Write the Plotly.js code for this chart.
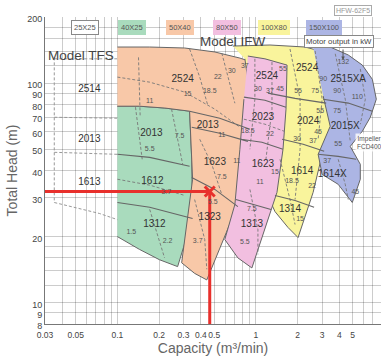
<!DOCTYPE html>
<html><head><meta charset="utf-8">
<script src="https://cdn.plot.ly/plotly-3.0.1.min.js"></script>
<style>html,body{margin:0;padding:0;background:#fff}#chart{width:381px;height:360px}</style>
</head><body><div id="chart"></div>
<script>
// ---- axis ticks ----
const capTicks=[0.03,0.04,0.05,0.06,0.07,0.08,0.09,0.1,0.2,0.3,0.4,0.5,0.6,0.7,0.8,0.9,1,2,3,4,5,6,7,8];
const capTickText=['0.03','','0.05','','','','','0.1','0.2','0.3','0.4','0.5','','','','','1','2','3','4','5','','','8'];
const headTicks=[8,9,10,12,14,16,18,20,30,40,50,60,70,80,90,100,120,140,160,180,200];
const headTickText=['8','9','10','','','','','20','30','40','50','60','70','80','90','100','','','','','200'];

// ---- coloured model areas (capacity m3/min, head m) ----
const greenCap=[0.1,0.144,0.22,0.332,0.344,0.349,0.272,0.201,0.144,0.1];
const greenHead=[78.5,78.5,77,74.5,45,24.4,14.6,15.7,17.5,20];
const salmonCap=[0.1,0.171,0.306,0.505,0.766,0.935,0.905,0.875,0.766,0.442,0.361,0.291,0.349,0.344,0.332,0.22,0.144,0.1];
const salmonHead=[146,146,144.5,138.6,130,124.7,76.1,50,29.5,12.7,13.6,15.2,36.5,45,74.5,77,78.5,78.5];
const yellowCap=[0.681,1.263,2.265,2.91,3.438,3.737,3.163,3.008,2.588,2.015,1.706,1.373,1.162,1.034,0.832];
const yellowHead=[147.5,149.1,146,140,93.9,65,50,47.4,31.8,19.8,22,26,32.8,50,129];
const pinkCap=[0.875,1.162,1.678,1.649,1.569,1.419,0.935,0.741,0.596,0.705,0.766,0.819];
const pinkHead=[132.8,129,120.8,76.1,50,31.8,14.4,16,19.4,28,50,84.5];
const blueCap=[2.588,3.438,4.641,5.865,6.93,7.4,6.701,5.865,4.8,5.672,5.672,4.962,3.927,3.008,2.813,3.438,3.059];
const blueHead=[146,146,134.3,120.8,104,84.5,69.9,60.4,51.5,42.7,36.5,28.6,34.6,38.4,47.4,63.6,87.3];

// ---- model band boundaries ----
const bandLines=[
 [[0.1,0.171,0.332],[47.4,45.9,41.8]],
 [[0.1,0.171,0.349],[28.6,27.2,24.2]],
 [[0.332,0.548,0.905],[74.5,69.2,61.7]],
 [[0.344,0.548,0.875],[63,59.1,54.3]],
 [[0.344,0.505,0.741],[37.2,32.8,27.4]],
 [[0.819,1.162,1.649],[86.3,83.6,77.7]],
 [[0.778,1.105,1.569],[55.5,53.8,50]],
 [[0.716,0.983,1.285],[29.5,28,26.6]],
 [[1.222,1.917,3.216],[90,85.2,81.1]],
 [[1.544,2.193,3.11],[55.5,52.7,48.9]],
 [[1.373,1.917,2.63],[30.8,29.2,27.2]],
 [[3.059,4.641,6.93],[84.5,81.1,74.5]],
 [[2.813,3.927,5.3],[47.4,46.4,45]]
];

// ---- TFS dashed curves ----
const tfsLines=[
 [[0.035,0.1,0.144,0.281,0.505,0.875],[129,129,127,116,101,80]],
 [[0.035,0.1,0.171,0.306],[69.9,69.2,65,59.7]],
 [[0.035,0.1],[48.4,47.4]],
 [[0.035,0.074,0.1,0.133],[28.6,25.5,23.9,21.5]],
 [[0.035,0.035],[131,28.6]]
];
// ---- motor output dashed curves ----
const kwLines=[
 [[0.1,0.171,0.306,0.505,0.766],[106.5,101,91,76.1,63]],
 [[0.142,0.144,0.146],[131,94,70]],
 [[0.332,0.393,0.449],[143,106.5,79.3]],
 [[0.567,0.63,0.705],[137,106.5,81]],
 [[0.393,0.48,0.567],[55.5,42.7,31.1]],
 [[0.361,0.427,0.442],[29.5,19.4,14.2]],
 [[0.135,0.144,0.151],[77.7,55.5,45]],
 [[0.246,0.272,0.296],[76.1,55.5,42.7]],
 [[0.1,0.171,0.306],[36.5,34.3,30.8]],
 [[0.171,0.201,0.219],[26.6,19.4,16]],
 [[0.983,0.983,0.905],[129,84.5,50]],
 [[1.306,1.306,1.181],[124.7,76.1,45]],
 [[0.819,1.162,1.595],[68.5,65,60.4]],
 [[0.905,1.034,1.034],[32.8,21.5,16.6]],
 [[1.763,2.084,2.084,1.917],[143,84.5,50,29.5]],
 [[2.677,3.008,2.813],[140,84.5,55.5]],
 [[1.493,1.763,1.917],[45,29.5,22.7]],
 [[3.737,4.416,4.8],[136,84.5,54.3]],
 [[5.672,6.165,5.672],[116,84.5,65]],
 [[3.927,4.416,4.641],[45,34.6,29.5]]
];

// ---- selection point ----
const selCap=[0.464];
const selHead=[32.1];

// ---- model labels ----
const modelNames=['2514','2013','1613','2013','1612','1312','2524','2013','1623','1323','2524','2023','1623','1313','2524','2024','1614','1314','2515XA','2015X','1614X'];
const modelCaps=[0.0627,0.0627,0.0627,0.176,0.179,0.185,0.296,0.449,0.505,0.464,1.201,1.124,1.124,0.935,2.342,2.381,2.154,1.763,4.641,4.416,3.554];
const modelHeads=[93.9,55.5,35.3,59.1,35.7,22.7,104,64.3,43.5,24.4,107.6,69.9,42.7,22.7,116,67,39.6,26.6,104,63.6,38.4];
// ---- motor output labels (kW) ----
const kwNames=['11','15','18.5','22','30','37','11','11','7.5','5.5','3.7','7.5','5.5','3.7','1.5','2.2','30','37','45','55','18.5','22','15','11','7.5','5.5','55','75','55','45','30','37','18.5','22','15','132','90','90','110','75','55','37','45'];
const kwCaps=[0.171,0.321,0.464,0.531,0.67,0.832,0.567,0.728,0.567,0.488,0.38,0.281,0.171,0.226,0.126,0.23,1.034,1.263,1.493,1.569,0.875,1.263,1.373,1.069,0.935,0.832,2.015,2.677,2.91,2.813,1.982,2.588,1.822,2.545,2.084,4.27,3.059,3.864,5.395,3.864,3.927,3.269,5.218];
const kwHeads=[82.7,89.1,91.9,106.5,113.5,119.6,57.9,44,37.2,28.6,19,57.3,50,31.8,20.9,19,93.9,91.9,93.9,116,60.4,58.5,39.2,35.3,26.6,18.8,91.9,91.9,74.5,59.7,55.5,54.3,35.7,33.9,23.9,124.7,104,91.9,86.3,74.5,52.7,44,31.8];

const traces=[];
tfsLines.forEach(l=>traces.push({x:l[0],y:l[1],mode:'lines',line:{color:'#999',width:1,dash:'3px,2px'},hoverinfo:'skip'}));
function area(c,h,col){traces.push({x:c,y:h,mode:'lines',fill:'toself',fillcolor:col,line:{color:'#666',width:1},hoverinfo:'skip'});}
area(greenCap,greenHead,'#a9dbbd');
area(salmonCap,salmonHead,'#f8c8a8');
area(yellowCap,yellowHead,'#f9f49c');
area(pinkCap,pinkHead,'#f2bfe0');
area(blueCap,blueHead,'#acb5e4');
kwLines.forEach(l=>traces.push({x:l[0],y:l[1],mode:'lines',line:{color:'#777',width:0.9,dash:'3px,2px'},hoverinfo:'skip'}));
bandLines.forEach(l=>traces.push({x:l[0],y:l[1],mode:'lines',line:{color:'#666',width:1.1},hoverinfo:'skip'}));
traces.push({x:[0.03,selCap[0]],y:[selHead[0],selHead[0]],mode:'lines',line:{color:'#e8302c',width:3},hoverinfo:'skip'});
traces.push({x:[selCap[0],selCap[0]],y:[8,selHead[0]],mode:'lines',line:{color:'#e8302c',width:3},hoverinfo:'skip'});
traces.push({x:selCap,y:selHead,mode:'markers',marker:{symbol:'x-thin',size:10,line:{color:'#e8302c',width:3},color:'#e8302c'},hoverinfo:'skip'});
traces.push({x:kwCaps,y:kwHeads,mode:'text',text:kwNames,textfont:{size:7,color:'#555',family:'Arial, Liberation Sans'},hoverinfo:'skip'});
traces.push({x:modelCaps,y:modelHeads,mode:'text',text:modelNames,textfont:{size:10,color:'#333',family:'Arial, Liberation Sans'},hoverinfo:'skip'});

const C={xref:'paper',yref:'paper',xanchor:'center',yanchor:'middle',showarrow:false};
const legendItems=[['25X25','#ffffff',0.119],['40X25','#a9dbbd',0.259],['50X40','#f8c8a8',0.402],['80X50','#f2bfe0',0.542],['100X80','#f9f49c',0.682],['150X100','#acb5e4',0.830]];
const ann=legendItems.map(it=>Object.assign({},C,{x:it[2],y:0.967,text:it[0],bgcolor:it[1],bordercolor:it[1]==='#ffffff'?'#888':it[1],borderwidth:1,borderpad:2,font:{size:7.5,color:'#555'}}));
ann.push(Object.assign({},C,{x:0.917,y:1.02,text:'HFW-62F5',bgcolor:'#fff',bordercolor:'#aaa',borderwidth:1,borderpad:1,font:{size:7,color:'#999'}}));
ann.push(Object.assign({},C,{x:0.107,y:0.873,text:'Model TFS',font:{size:13.5,color:'#444'}}));
ann.push(Object.assign({},C,{x:0.56,y:0.919,text:'Model IFW',font:{size:13.5,color:'#444'}}));
ann.push({xref:'paper',yref:'paper',x:0.887,y:0.86,ax:0,ay:-12,text:'',showarrow:true,arrowhead:2,arrowsize:0.7,arrowwidth:1,arrowcolor:'#555'});
ann.push(Object.assign({},C,{x:0.875,y:0.919,text:'Motor output in kW',bgcolor:'#fff',bordercolor:'#888',borderwidth:1,borderpad:1,font:{size:7.8,color:'#444'}}));
ann.push(Object.assign({},C,{x:0.965,y:0.59,text:'Impeller<br>FCD400',bgcolor:'rgba(255,255,255,0.8)',font:{size:6.5,color:'#555'}}));

const layout={width:381,height:360,margin:{l:45,r:0,t:17,b:36},paper_bgcolor:'#fff',plot_bgcolor:'#fff',showlegend:false,
 font:{family:'Arial, Liberation Sans, sans-serif'},
 xaxis:{type:'log',range:[Math.log10(0.03),Math.log10(8)],tickvals:capTicks,ticktext:capTickText,tickangle:0,ticks:'',ticklabelstandoff:3,showgrid:true,gridcolor:'rgba(0,0,0,0.2)',gridwidth:1,showline:true,linecolor:'#777',zeroline:false,layer:'above traces',tickfont:{size:8.5,color:'#444'},automargin:false,
  title:{text:'Capacity (m³/min)',font:{size:14,color:'#666'},standoff:2}},
 yaxis:{type:'log',range:[Math.log10(8),Math.log10(200)],tickvals:headTicks,ticktext:headTickText,ticks:'',ticklabelshift:2,showgrid:true,gridcolor:'rgba(0,0,0,0.2)',gridwidth:1,showline:true,linecolor:'#777',zeroline:false,layer:'above traces',tickfont:{size:9,color:'#444'},automargin:false,
  title:{text:'Total Head (m)',font:{size:14,color:'#666'},standoff:6}},
 annotations:ann};
Plotly.newPlot('chart',traces,layout,{staticPlot:true,displayModeBar:false});
</script></body></html>
